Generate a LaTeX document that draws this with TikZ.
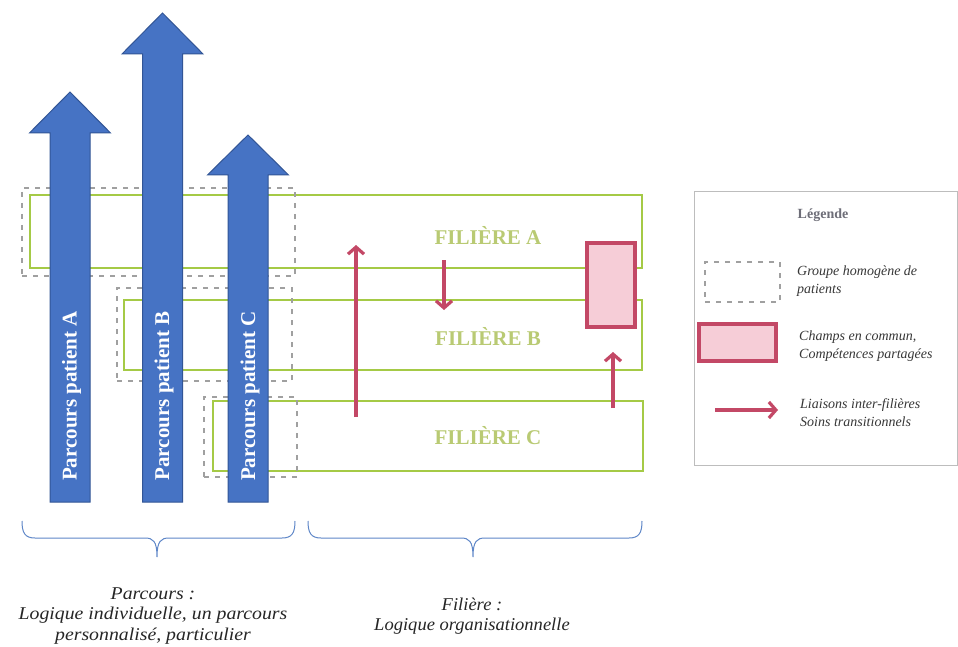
\documentclass[tikz,border=0pt]{standalone}
\usepackage{fontspec}
\setmainfont{Liberation Serif}
\usetikzlibrary{arrows.meta}
\definecolor{blueA}{RGB}{70,115,196}
\definecolor{blueB}{RGB}{50,85,150}
\definecolor{filgreen}{RGB}{165,202,70}
\definecolor{filtext}{RGB}{185,202,115}
\definecolor{pinkline}{RGB}{195,72,102}
\definecolor{pinkfill}{RGB}{246,205,215}
\definecolor{dashgray}{RGB}{160,160,160}
\definecolor{bracecol}{RGB}{95,135,200}
\definecolor{legtext}{RGB}{55,55,55}
\definecolor{legtitle}{RGB}{110,110,120}
\begin{document}
\begin{tikzpicture}[x=1pt,y=-1pt,
  filbox/.style={draw=filgreen,line width=2.8pt,inner sep=0pt,outer sep=0pt},
  grpbox/.style={draw=dashgray,line width=1.1pt,dash pattern=on 5pt off 6pt,inner sep=0pt,outer sep=0pt},
  champbox/.style={draw=pinkline,fill=pinkfill,line width=3.4pt,inner sep=0pt,outer sep=0pt},
  legbox/.style={draw=dashgray!70,line width=0.9pt,inner sep=0pt,outer sep=0pt},
  liaison/.style={draw=pinkline,line width=3.2pt,-{Straight Barb[length=7pt,width=16pt]}},
  bluearrow/.style={fill=blueA,draw=blueB,line width=1pt},
  partext/.style={text=white,font=\fontsize{21}{25}\selectfont\bfseries,rotate=90,inner sep=0pt},
  filtxt/.style={text=filtext,font=\fontsize{21}{25}\selectfont\bfseries,inner sep=0pt},
  legtxt/.style={text=legtext,font=\fontsize{14}{18}\selectfont\itshape,align=left,anchor=west,inner sep=0pt},
  bottxt/.style={text=black!85,font=\fontsize{18}{20.5}\selectfont\itshape,align=center,inner sep=0pt},
  bracepath/.style={draw=bracecol,line width=1pt}
]
\useasboundingbox[fill=white] (0,0) rectangle (958,647);

% filieres (green boxes)
\node[filbox,minimum width=612pt,minimum height=73pt] (fA) at (336,231.5) {};
\node[filbox,minimum width=518pt,minimum height=70pt] (fB) at (383,335) {};
\node[filbox,minimum width=430pt,minimum height=70pt] (fC) at (428,436) {};

% groupes homogenes (dashed)
\node[grpbox,minimum width=273pt,minimum height=88pt] (gA) at (158.5,232) {};
\node[grpbox,minimum width=175pt,minimum height=93pt] (gB) at (204.5,334.5) {};
\node[grpbox,minimum width=93pt,minimum height=80pt] (gC) at (250.5,437) {};

% blue arrows (parcours)
\path[bluearrow] (50,502) -- (50,133) -- (29.5,133) -- (70,92) -- (110.5,133) -- (90,133) -- (90,502) -- cycle;
\path[bluearrow] (142.5,502) -- (142.5,54) -- (122,54) -- (162.5,13) -- (203,54) -- (182.5,54) -- (182.5,502) -- cycle;
\path[bluearrow] (228,502) -- (228,175) -- (207.5,175) -- (248,135) -- (288.5,175) -- (268,175) -- (268,502) -- cycle;
\node[partext] (pA) at (71.5,396) {Parcours patient A};
\node[partext] (pB) at (164,396) {Parcours patient B};
\node[partext] (pC) at (250,396) {Parcours patient C};

% filiere labels
\node[filtxt] (lA) at (488,235) {FILIÈRE A};
\node[filtxt] (lB) at (488,337) {FILIÈRE B};
\node[filtxt] (lC) at (488,436) {FILIÈRE C};

% champ commun
\node[champbox,minimum width=48pt,minimum height=84pt] (champ) at (611,285) {};

% liaisons inter-filieres
\coordinate (l1s) at (356,417);
\coordinate (l1e) at (356,245);
\coordinate (l2s) at (444,260);
\coordinate (l2e) at (444,310);
\coordinate (l3s) at (613,408);
\coordinate (l3e) at (613,352);
\draw[liaison] (l1s) -- (l1e);
\draw[liaison] (l2s) -- (l2e);
\draw[liaison] (l3s) -- (l3e);

% legend
\node[legbox,minimum width=263pt,minimum height=274pt] (leg) at (825.5,328) {};
\node[text=legtitle,font=\fontsize{14}{16}\selectfont\bfseries,inner sep=0pt] (legT) at (823,215) {Légende};
\node[grpbox,minimum width=75pt,minimum height=40pt] (legG) at (742.5,282) {};
\node[legtxt] (legGt) at (797,281) {Groupe homogène de\\patients};
\node[champbox,minimum width=77pt,minimum height=37pt] (legC) at (737.5,342.5) {};
\node[legtxt] (legCt) at (799,346.5) {Champs en commun,\\Compétences partagées};
\coordinate (legLs) at (715,410);
\coordinate (legLe) at (778,410);
\draw[liaison] (legLs) -- (legLe);
\node[legtxt] (legLt) at (800,413) {Liaisons inter-filières\\Soins transitionnels};

% braces
\draw[bracepath] (22,521) .. controls (22,533) and (25,538) .. (35,538) -- (145,538)
  .. controls (153,538) and (157,541) .. (157,557)
  .. controls (157,541) and (161,538) .. (169,538) -- (282,538)
  .. controls (292,538) and (295,533) .. (295,521);
\draw[bracepath] (308,521) .. controls (308,533) and (311,538) .. (321,538) -- (461,538)
  .. controls (469,538) and (473,541) .. (473,557)
  .. controls (473,541) and (477,538) .. (485,538) -- (629,538)
  .. controls (639,538) and (642,533) .. (642,521);

% bottom texts
\node[bottxt,xscale=1.1] (tP) at (153,616) {Parcours :\\Logique individuelle, un parcours\\personnalisé, particulier};
\node[bottxt,xscale=1.03] (tF) at (472,616) {Filière :\\Logique organisationnelle};
\end{tikzpicture}
\end{document}
